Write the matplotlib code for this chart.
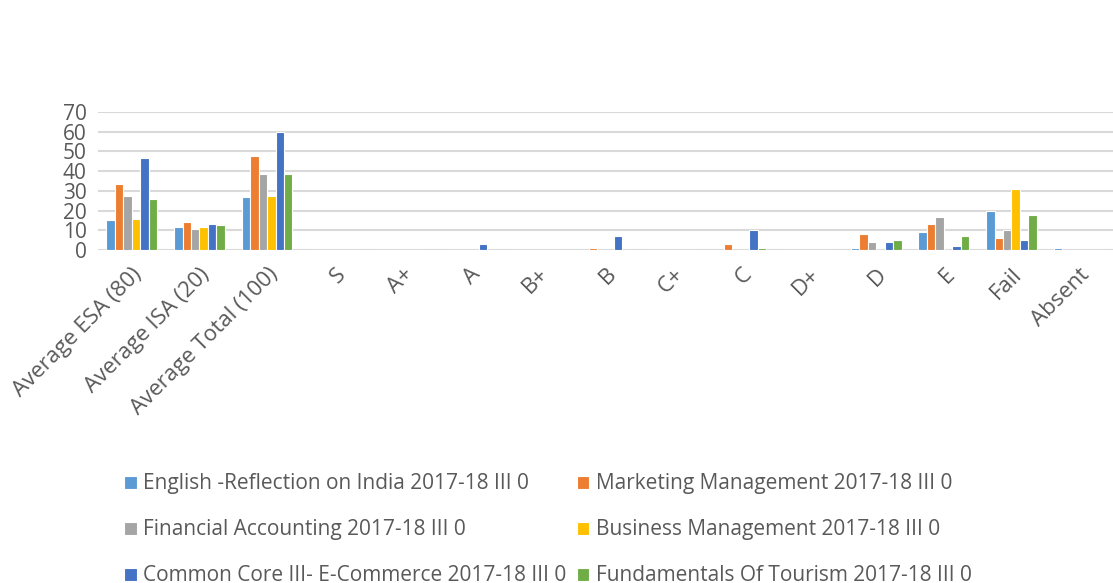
import numpy as np
import matplotlib.pyplot as plt

plt.rcParams['font.family'] = ['Open Sans', 'DejaVu Sans']

categories = ["Average ESA (80)", "Average ISA (20)", "Average Total (100)", "S", "A+", "A",
              "B+", "B", "C+", "C", "D+", "D", "E", "Fail", "Absent"]

english = [15.5, 11.5, 26.8, 0, 0, 0, 0, 0, 0, 0, 0, 1, 9, 20, 1]
marketing = [33.5, 14.2, 47.7, 0, 0, 0, 0, 1, 0, 3, 0, 8, 13, 6, 0]
financial = [27.3, 10.8, 38.4, 0, 0, 0, 0, 0, 0, 0, 0, 4, 17, 10, 0]
business = [15.7, 11.6, 27.5, 0, 0, 0, 0, 0, 0, 0, 0, 0, 0, 31, 0]
ecommerce = [46.9, 13.0, 59.9, 0, 0, 3, 0, 7, 0, 10, 0, 4, 2, 5, 0]
tourism = [26.1, 12.5, 38.6, 0, 0, 0, 0, 0, 0, 1, 0, 5, 7, 18, 0]

series = [
    ("English -Reflection on India 2017-18 III 0", english, "#5B9BD5"),
    ("Marketing Management 2017-18 III 0", marketing, "#ED7D31"),
    ("Financial Accounting 2017-18 III 0", financial, "#A5A5A5"),
    ("Business Management 2017-18 III 0", business, "#FFC000"),
    ("Common Core III- E-Commerce 2017-18 III 0", ecommerce, "#4472C4"),
    ("Fundamentals Of Tourism 2017-18 III 0", tourism, "#70AD47"),
]

fig = plt.figure(figsize=(11.13, 5.83), dpi=100)
ax = fig.add_axes([0.088, 0.571, 0.912, 0.237])

x = np.arange(len(categories))
slot = 0.75 / len(series)
for i, (name, vals, color) in enumerate(series):
    ax.bar(x - 0.375 + slot * (i + 0.5), vals, width=slot, color=color,
           edgecolor="white", linewidth=0.8, label=name, zorder=3)

ax.set_xlim(-0.5, len(categories) - 0.5)
ax.set_ylim(0, 70)
ax.set_yticks(range(0, 71, 10))
ax.grid(axis="y", color="#d9d9d9", linewidth=1.5, zorder=0)
for s in ax.spines.values():
    s.set_visible(False)
ax.tick_params(axis="both", length=0, colors="#595959")
ax.tick_params(axis="y", pad=8, labelsize=15)
ax.tick_params(axis="x", pad=10, labelsize=16)
ax.set_xticks(x)
ax.set_xticklabels(categories, rotation=45, ha="right", rotation_mode="anchor")

# legend fills column by column, so reorder to read row by row like the original
handles, labels = ax.get_legend_handles_labels()
order = [0, 2, 4, 1, 3, 5]
fig.legend([handles[i] for i in order], [labels[i] for i in order], ncol=2,
           loc="upper left", bbox_to_anchor=(0.095, 0.22),
           frameon=False, fontsize=15, labelcolor="#595959", handlelength=0.6,
           handleheight=0.6, handletextpad=0.3, columnspacing=0.5, labelspacing=1.2)

fig.savefig("out.png", dpi=100)
